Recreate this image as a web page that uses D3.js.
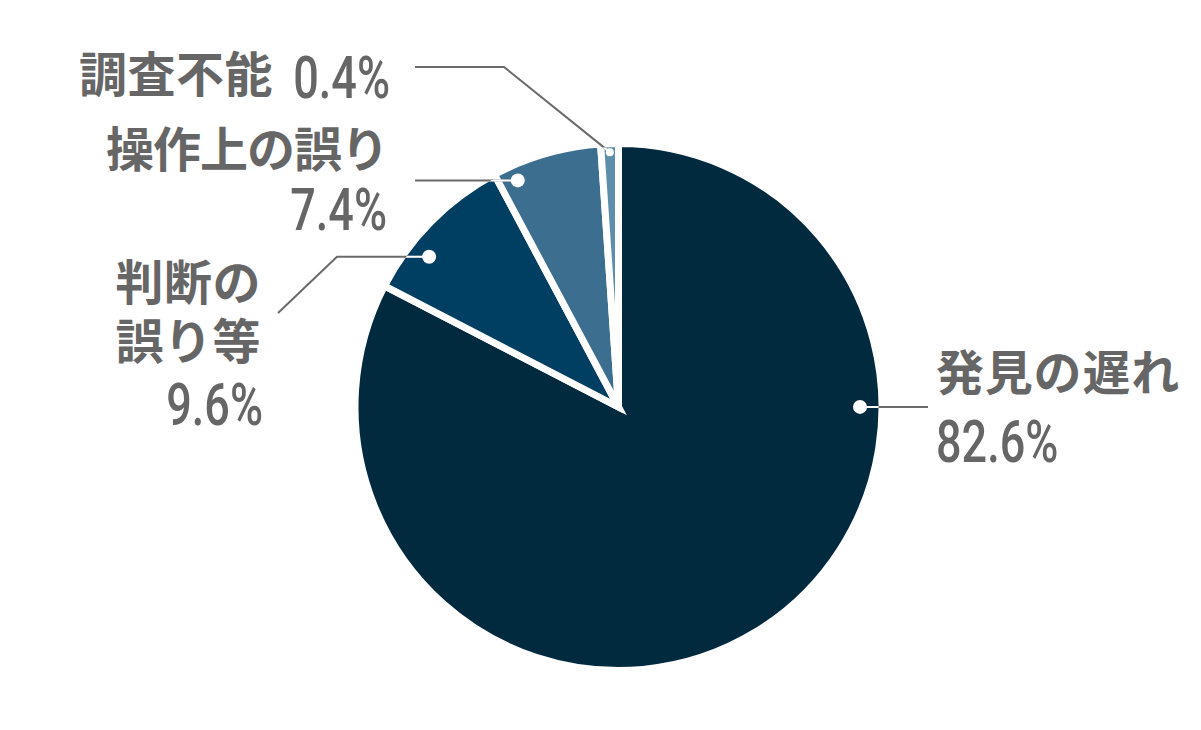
<!DOCTYPE html>
<html>
<head>
<meta charset="utf-8">
<script src="https://cdn.jsdelivr.net/npm/d3@7"></script>
<style>
  html, body { margin: 0; padding: 0; background: #fff; }
  svg { display: block; }
</style>
</head>
<body>
<svg id="chart" width="1201" height="730"></svg>
<script>
// ---- data ----
const categories = ["発見の遅れ", "判断の誤り等", "操作上の誤り", "調査不能"];
const values = [82.6, 9.6, 7.4, 0.4];
const labelLines = [["発見の遅れ"], ["判断の", "誤り等"], ["操作上の誤り"], ["調査不能"]];
const colors = ["#022a3f", "#003e62", "#3c6f8f", "#5d8fad"];

// ---- layout ----
const W = 1201, H = 730;
const cx = 618.5, cy = 407, R = 263.5, visR = 260;
const minSliceDeg = 3.9;
const textColor = "#666666";
const lineColor = "#6a6a6a";

// label layout: dot position along slice (fraction of angle, radius), leader path, text positions
const layout = [
  { frac: 0.3026, rDot: 241.5, dotR: 7, path: [[928, null]], ls: 0.8,
    cjk: [{ x: 936, y: 390, anchor: "start" }], pct: { x: 936, y: 462, anchor: "start" } },
  { frac: 0.32, rDot: 241.7, dotR: 7, path: [[337, null], [278, 313]], ls: 0.5,
    cjk: [{ x: 261, y: 300, anchor: "end" }, { x: 261, y: 359, anchor: "end" }], pct: { x: 263, y: 425, anchor: "end" } },
  { frac: 0.17, rDot: 248, dotR: 7, path: [[415, null]], ls: -1,
    cjk: [{ x: 388, y: 167, anchor: "end" }], pct: { x: 387, y: 230, anchor: "end" } },
  { frac: 0.5, rDot: 255, dotR: 4, path: [[504, 67], [415, 67]], ls: 0.5,
    cjk: [{ x: 273, y: 92, anchor: "end" }], pct: { x: 390, y: 98, anchor: "end" } }
];

const svg = d3.select("#chart");

// pie
const arcs = d3.pie().sort(null).value(d => d)(values);
// ensure tiny slices remain visible (borrow angle from previous slice)
const minA = minSliceDeg * Math.PI / 180;
for (let i = arcs.length - 1; i > 0; i--) {
  const a = arcs[i].endAngle - arcs[i].startAngle;
  if (a < minA) {
    const d = minA - a;
    arcs[i].startAngle -= d;
    arcs[i - 1].endAngle -= d;
  }
}

const arc = d3.arc().innerRadius(0).outerRadius(R);
const g = svg.append("g").attr("transform", `translate(${cx},${cy})`);
g.selectAll("path.slice")
  .data(arcs)
  .join("path")
  .attr("class", "slice")
  .attr("d", arc)
  .attr("fill", (d, i) => colors[i])
  .attr("stroke", "#fff")
  .attr("stroke-width", 7)
  .attr("stroke-linejoin", "miter");

// clip for inner (white) portion of leader lines
svg.append("defs").append("clipPath").attr("id", "pieClip")
  .append("circle").attr("cx", cx).attr("cy", cy).attr("r", visR);

const line = d3.line();
const leaders = svg.append("g");
const labels = svg.append("g");

arcs.forEach((a, i) => {
  const L = layout[i];
  const ang = a.startAngle + L.frac * (a.endAngle - a.startAngle);
  const dx = cx + L.rDot * Math.sin(ang);
  const dy = cy - L.rDot * Math.cos(ang);
  const pts = [[dx, dy]].concat(L.path.map(p => [p[0], p[1] == null ? dy : p[1]]));

  leaders.append("path")
    .attr("d", line(pts))
    .attr("fill", "none")
    .attr("stroke", lineColor)
    .attr("stroke-width", 2);
  leaders.append("path")
    .attr("d", line(pts))
    .attr("fill", "none")
    .attr("stroke", "#ffffff")
    .attr("stroke-width", 2)
    .attr("clip-path", "url(#pieClip)");
  leaders.append("circle")
    .attr("cx", dx).attr("cy", dy).attr("r", L.dotR)
    .attr("fill", "#fff");

  labelLines[i].forEach((t, j) => {
    const p = L.cjk[j];
    labels.append("text")
      .attr("x", p.x).attr("y", p.y)
      .attr("text-anchor", p.anchor)
      .attr("font-family", "'Noto Sans CJK JP', 'Noto Sans CJK SC', sans-serif")
      .attr("font-weight", 700)
      .attr("font-size", 48)
      .attr("letter-spacing", L.ls)
      .attr("fill", textColor)
      .text(t);
  });

  labels.append("text")
    .attr("transform", `translate(${L.pct.x},${L.pct.y}) scale(0.75,1)`)
    .attr("x", 0).attr("y", 0)
    .attr("text-anchor", L.pct.anchor)
    .attr("font-family", "Roboto, 'Liberation Sans', sans-serif")
    .attr("font-weight", 500)
    .attr("font-size", 60)
    .attr("fill", textColor)
    .text(values[i].toFixed(1) + "%");
});
</script>
</body>
</html>
